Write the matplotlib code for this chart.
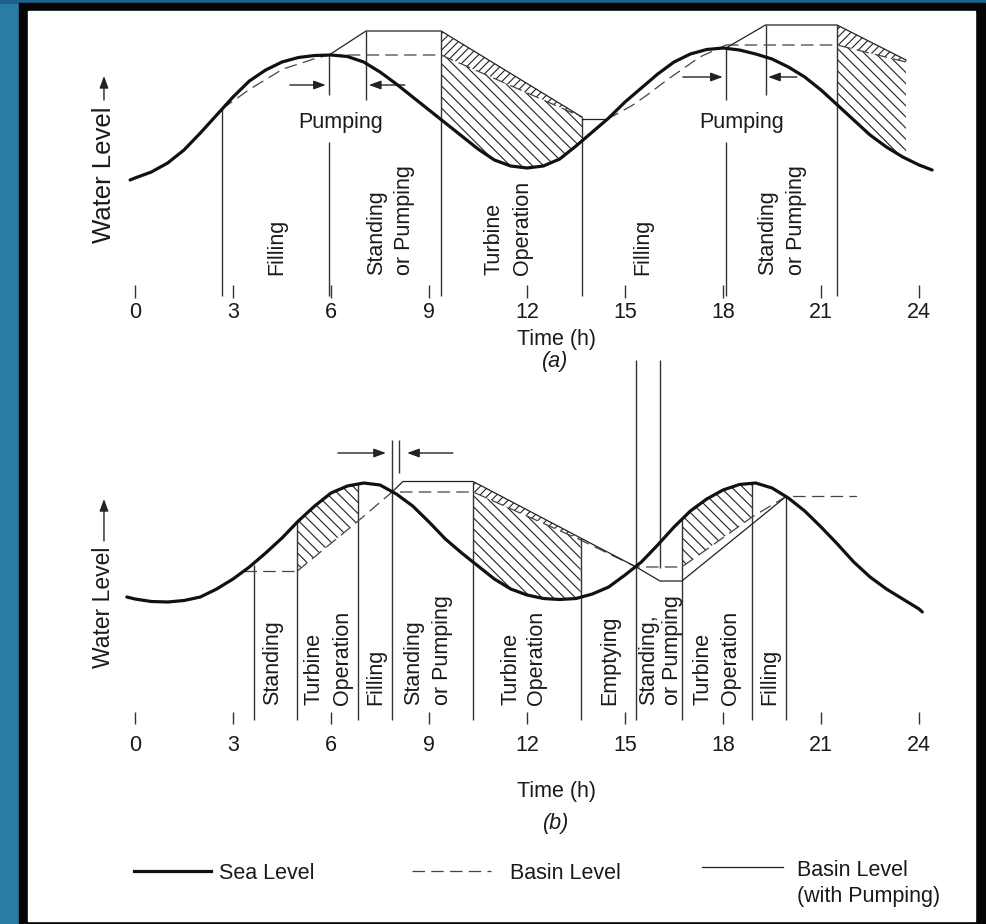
import matplotlib
matplotlib.use('Agg')
import matplotlib.pyplot as plt
from matplotlib.patches import Rectangle, Polygon

plt.rcParams['font.family'] = ['Liberation Sans', 'DejaVu Sans']
plt.rcParams['hatch.linewidth'] = 0.8
plt.rcParams['hatch.color'] = '#222222'
plt.rcParams['lines.scale_dashes'] = False

# ------------------------------------------------------------------ data
tick_hours = [0, 3, 6, 9, 12, 15, 18, 21, 24]
tick_labels = ['0', '3', '6', '9', '12', '15', '18', '21', '24']

# ---- panel (a): sea level (hours, level units)
sea_a_t = [-0.15, 0, 0.5, 1, 1.5, 2, 2.5, 3, 3.5, 4, 4.5, 5, 5.5, 6, 6.5, 7, 7.5,
           8, 8.5, 9, 9.5, 10, 10.5, 11, 11.5, 12, 12.5, 13, 13.5, 14, 14.5, 15,
           15.5, 16, 16.5, 17, 17.5, 18, 18.5, 19, 19.5, 20, 20.5, 21, 21.5, 22,
           22.5, 23, 23.5, 24, 24.4]
sea_a_L = [2.0, 2.2, 2.8, 3.7, 5.0, 6.7, 8.5, 10.3, 11.9, 13.0, 13.8, 14.25, 14.45,
           14.5, 14.35, 13.8, 12.8, 11.6, 10.3, 9.0, 7.7, 6.4, 5.1, 4.0, 3.4, 3.2,
           3.4, 4.1, 5.4, 6.8, 8.2, 9.8, 11.2, 12.6, 13.8, 14.6, 15.05, 15.2, 15.0,
           14.6, 14.1, 13.3, 12.3, 11.0, 9.5, 8.0, 6.5, 5.3, 4.3, 3.5, 3.0]

# basin level (no pumping), dashed
basin_a_fill1_t = [2.66, 3.52, 4.53, 5.57, 5.94]
basin_a_fill1_L = [9.1, 11.1, 13.1, 14.2, 14.5]
basin_a_run1_t = [5.94, 9.37, 13.68]
basin_a_run1_L = [14.5, 14.5, 8.3]
basin_a_fill2_t = [14.45, 14.75, 15.24, 15.76, 16.28, 17.29, 18.09]
basin_a_fill2_L = [8.1, 8.6, 9.5, 10.7, 12.0, 14.3, 15.5]
basin_a_run2_t = [18.09, 21.49, 23.6]
basin_a_run2_L = [15.5, 15.5, 13.8]
# basin level with pumping, solid
pump_a1_t = [5.94, 7.07, 9.37, 13.68]
pump_a1_L = [14.5, 16.9, 16.9, 8.3]
pump_a2_t = [18.09, 19.3, 21.49, 23.6]
pump_a2_L = [15.2, 17.5, 17.5, 14.0]
stand_a_t = [13.68, 14.45]
stand_a_L = [8.1, 8.1]

# phase boundaries (a): time, top level, bottom level
bound_a_t = [2.66, 5.94, 5.94, 7.07, 9.37, 13.68, 18.09, 18.09, 19.3, 21.49]
bound_a_top = [9.1, 14.5, 5.8, 16.9, 16.9, 8.3, 15.2, 5.8, 17.5, 17.5]
bound_a_bot = [-9.6, 10.5, -9.6, 10.0, -9.6, -9.6, 10.0, -9.6, 10.5, -9.6]

phase_a_labels = ['Filling', 'Standing', 'or Pumping', 'Turbine', 'Operation',
                  'Filling', 'Standing', 'or Pumping']
phase_a_t = [4.35, 7.38, 8.26, 10.99, 11.85, 15.55, 19.35, 20.26]

# ---- panel (b): sea level
sea_b_t = [-0.25, 0, 0.5, 1, 1.5, 2, 2.5, 3, 3.5, 4, 4.5, 5, 5.5, 6, 6.5, 7, 7.5,
           8, 8.5, 9, 9.5, 10, 10.5, 11, 11.5, 12, 12.5, 13, 13.5, 14, 14.5, 15,
           15.5, 16, 16.5, 17, 17.5, 18, 18.5, 19, 19.5, 20, 20.5, 21, 21.5, 22,
           22.5, 23, 23.5, 24, 24.1]
sea_b_L = [2.3, 2.1, 1.85, 1.8, 1.95, 2.3, 3.1, 4.1, 5.3, 6.7, 8.2, 9.9, 11.4, 12.7,
           13.4, 13.7, 13.5, 12.6, 11.4, 9.8, 8.1, 6.7, 5.4, 4.1, 3.1, 2.5, 2.15,
           2.05, 2.15, 2.6, 3.3, 4.5, 5.8, 7.5, 9.3, 10.9, 12.1, 13.0, 13.55, 13.7,
           13.2, 12.2, 10.9, 9.3, 7.6, 5.8, 4.3, 3.1, 2.1, 1.1, 0.8]

stand_b_t = [3.35, 4.97]
stand_b_L = [4.9, 4.9]
basin_b_t = [4.97, 6.83, 7.87, 10.35, 13.64, 15.34, 16.74, 18.89, 19.93, 22.1]
basin_b_L = [4.9, 9.9, 12.8, 12.8, 8.0, 5.3, 5.3, 10.3, 12.35, 12.35]
pump_b_t = [7.87, 8.2, 10.35, 13.64, 15.34, 16.07, 16.74, 19.93]
pump_b_L = [12.8, 13.85, 13.85, 8.2, 5.3, 3.9, 3.9, 12.35]

bound_b_t = [3.63, 4.97, 6.83, 7.87, 8.08, 10.35, 13.64, 15.34, 16.07, 16.74, 18.89, 19.93]
bound_b_top = [5.5, 9.9, 13.65, 18.0, 18.0, 13.85, 8.2, 26.0, 26.0, 10.07, 13.67, 12.35]
bound_b_bot = [-10, -10, -10, -10, 14.7, -10, -10, -10, 5.2, -10, -10, -10]

phase_b_labels = ['Standing', 'Turbine', 'Operation', 'Filling', 'Standing',
                  'or Pumping', 'Turbine', 'Operation', 'Emptying', 'Standing,',
                  'or Pumping', 'Turbine', 'Operation', 'Filling']
phase_b_t = [4.22, 5.48, 6.34, 7.38, 8.54, 9.4, 11.51, 12.3, 14.54, 15.73, 16.44,
             17.39, 18.24, 19.44]

legend_labels = ['Sea Level', 'Basin Level', 'Basin Level', '(with Pumping)']

# ------------------------------------------------------------------ style
SEA = dict(color='#111111', lw=2.3, solid_capstyle='round', solid_joinstyle='round',
           zorder=5)
DASH = dict(color='#444444', lw=0.9, ls=(0, (9, 4.5)), zorder=4)
SOLID = dict(color='#222222', lw=0.9, zorder=4)
VLINE = dict(color='#333333', lw=1.0, zorder=3)
TXT = '#1a1a1a'
FS = 15.5

fig = plt.figure(figsize=(9.87, 9.24), dpi=100)

# background / frame (pixel coordinates)
bg = fig.add_axes([0, 0, 1, 1])
bg.set_xlim(0, 987)
bg.set_ylim(924, 0)
bg.axis('off')
bg.add_patch(Rectangle((0, 0), 987, 924, color='#0b1a3a', zorder=0))
bg.add_patch(Rectangle((0, 0), 19, 924, color='#2b7ca3', zorder=0))
bg.add_patch(Rectangle((0, 0), 987, 3, color='#1f5f8c', zorder=0))
bg.add_patch(Rectangle((19, 3), 966, 921, color='#050505', zorder=1))
bg.add_patch(Rectangle((28, 11), 947, 910, color='white', zorder=2))

X0, X1 = 37.0, 984.4   # pixel x of t=-3 and t=26


def add_panel(ytop, ybot, ylim, spine_L, tick_len, pad):
    ax = fig.add_axes([X0 / 987, 1 - ybot / 924, (X1 - X0) / 987, (ybot - ytop) / 924])
    ax.set_xlim(-3, 26)
    ax.set_ylim(*ylim)
    ax.patch.set_visible(False)
    for s in ['left', 'right', 'top', 'bottom']:
        ax.spines[s].set_visible(False)
    ax.spines['bottom'].set_position(('data', spine_L))
    ax.tick_params(axis='y', left=False, labelleft=False)
    ax.set_xticks(tick_hours)
    ax.set_xticklabels(tick_labels)
    ax.tick_params(axis='x', direction='in', length=tick_len, width=1.0,
                   color='#333333', pad=pad, labelsize=FS, labelcolor=TXT)
    return ax


def hatch_region(ax, ct, cL, edge_t, edge_L, sea_below, pattern):
    big = 200
    if sea_below:
        coll = ax.fill_between(ct, cL, big, facecolor='none', edgecolor='#222222',
                               linewidth=0, hatch=pattern, zorder=2)
        verts = [(edge_t[0], -big)] + list(zip(edge_t, edge_L)) + [(edge_t[-1], -big)]
    else:
        coll = ax.fill_between(ct, -big, cL, facecolor='none', edgecolor='#222222',
                               linewidth=0, hatch=pattern, zorder=2)
        verts = [(edge_t[0], big)] + list(zip(edge_t, edge_L)) + [(edge_t[-1], big)]
    clip = Polygon(verts, closed=True, transform=ax.transData)
    coll.set_clip_path(clip)


def band(ax, t_top, L_top, t_low, L_low, pattern):
    verts = list(zip(t_top, L_top)) + list(zip(t_low[::-1], L_low[::-1]))
    ax.add_patch(Polygon(verts, closed=True, facecolor='none', edgecolor='#222222',
                         linewidth=0, hatch=pattern, zorder=2))


def harrow(ax, x_from, x_to, y):
    ax.annotate('', xy=(x_to, y), xytext=(x_from, y),
                arrowprops=dict(arrowstyle='-|>,head_length=0.6,head_width=0.22',
                                color='#222222', lw=1.0, mutation_scale=12,
                                shrinkA=0, shrinkB=0))


def varrow(ax, x, y_from, y_to):
    ax.annotate('', xy=(x, y_to), xytext=(x, y_from),
                arrowprops=dict(arrowstyle='-|>,head_length=0.6,head_width=0.22',
                                color='#222222', lw=1.0, mutation_scale=12,
                                shrinkA=0, shrinkB=0))


# ================================================================ panel (a)
ax_a = add_panel(10, 350, (-15, 19), -9.8, 9.4, 2.9)

hatch_region(ax_a, sea_a_t, sea_a_L, basin_a_run1_t[1:], basin_a_run1_L[1:], True, '\\\\\\')
hatch_region(ax_a, sea_a_t, sea_a_L, basin_a_run2_t[1:], basin_a_run2_L[1:], True, '\\\\\\')
band(ax_a, pump_a1_t[2:], pump_a1_L[2:], basin_a_run1_t[1:], basin_a_run1_L[1:], '////')
band(ax_a, pump_a2_t[2:], pump_a2_L[2:], basin_a_run2_t[1:], basin_a_run2_L[1:], '////')

ax_a.plot(sea_a_t, sea_a_L, **SEA)
for tt, LL in [(basin_a_fill1_t, basin_a_fill1_L), (basin_a_run1_t, basin_a_run1_L),
               (basin_a_fill2_t, basin_a_fill2_L), (basin_a_run2_t, basin_a_run2_L)]:
    ax_a.plot(tt, LL, **DASH)
for tt, LL in [(pump_a1_t, pump_a1_L), (pump_a2_t, pump_a2_L), (stand_a_t, stand_a_L)]:
    ax_a.plot(tt, LL, **SOLID)
ax_a.vlines(bound_a_t, bound_a_bot, bound_a_top, **VLINE)

for s, t in zip(phase_a_labels, phase_a_t):
    ax_a.text(t, -7.5, s, rotation=90, ha='center', va='bottom', fontsize=FS, color=TXT)
ax_a.text(6.28, 8.0, 'Pumping', ha='center', va='center_baseline', fontsize=FS, color=TXT)
ax_a.text(18.58, 8.0, 'Pumping', ha='center', va='center_baseline', fontsize=FS, color=TXT)
harrow(ax_a, 4.74, 5.84, 11.5)
harrow(ax_a, 8.26, 7.16, 11.5)
harrow(ax_a, 16.77, 17.99, 12.3)
harrow(ax_a, 20.26, 19.38, 12.3)

ax_a.text(-0.95, -4.3, 'Water Level', rotation=90, ha='center', va='bottom',
          fontsize=18.5, color=TXT)
varrow(ax_a, -0.95, 10.0, 12.4)
ax_a.text(12.9, -14.0, 'Time (h)', ha='center', va='center', fontsize=FS, color=TXT)
ax_a.text(12.85, -16.2, '(a)', ha='center', va='center', fontsize=FS, color=TXT,
          style='italic')

# ================================================================ panel (b)
ax_b = add_panel(350, 920, (-30, 27), -10.4, 8.6, 8.0)

hatch_region(ax_b, sea_b_t, sea_b_L, basin_b_t[0:2], basin_b_L[0:2], False, '\\\\\\')
hatch_region(ax_b, sea_b_t, sea_b_L, basin_b_t[3:5], basin_b_L[3:5], True, '\\\\\\')
hatch_region(ax_b, sea_b_t, sea_b_L, basin_b_t[6:8], basin_b_L[6:8], False, '\\\\\\')
band(ax_b, pump_b_t[2:4], pump_b_L[2:4], basin_b_t[3:5], basin_b_L[3:5], '////')

ax_b.plot(sea_b_t, sea_b_L, **SEA)
ax_b.plot(stand_b_t, stand_b_L, **DASH)
ax_b.plot(basin_b_t, basin_b_L, **DASH)
ax_b.plot(pump_b_t, pump_b_L, **SOLID)
ax_b.vlines(bound_b_t, bound_b_bot, bound_b_top, **VLINE)

for s, t in zip(phase_b_labels, phase_b_t):
    ax_b.text(t, -8.5, s, rotation=90, ha='center', va='bottom', fontsize=FS, color=TXT)
harrow(ax_b, 6.21, 7.68, 16.7)
harrow(ax_b, 9.73, 8.33, 16.7)

ax_b.text(-0.95, -4.8, 'Water Level', rotation=90, ha='center', va='bottom',
          fontsize=16.5, color=TXT)
varrow(ax_b, -0.95, 7.9, 12.1)
ax_b.text(12.9, -17.1, 'Time (h)', ha='center', va='center', fontsize=FS, color=TXT)
ax_b.text(12.9, -20.4, '(b)', ha='center', va='center', fontsize=FS, color=TXT,
          style='italic')

# ================================================================ legend
bg.plot([134, 211], [871, 871], color='#111111', lw=2.3, zorder=5)
bg.text(219, 871, legend_labels[0], va='center_baseline', fontsize=FS, color=TXT, zorder=5)
bg.plot([412, 491], [871, 871], color='#444444', lw=0.9, ls=(0, (9, 4.5)), zorder=5)
bg.text(510, 871, legend_labels[1], va='center_baseline', fontsize=FS, color=TXT, zorder=5)
bg.plot([702, 783], [867, 867], color='#222222', lw=0.9, zorder=5)
bg.text(797, 868, legend_labels[2], va='center_baseline', fontsize=FS, color=TXT, zorder=5)
bg.text(797, 894, legend_labels[3], va='center_baseline', fontsize=FS, color=TXT, zorder=5)

fig.savefig('out.png', dpi=100)
